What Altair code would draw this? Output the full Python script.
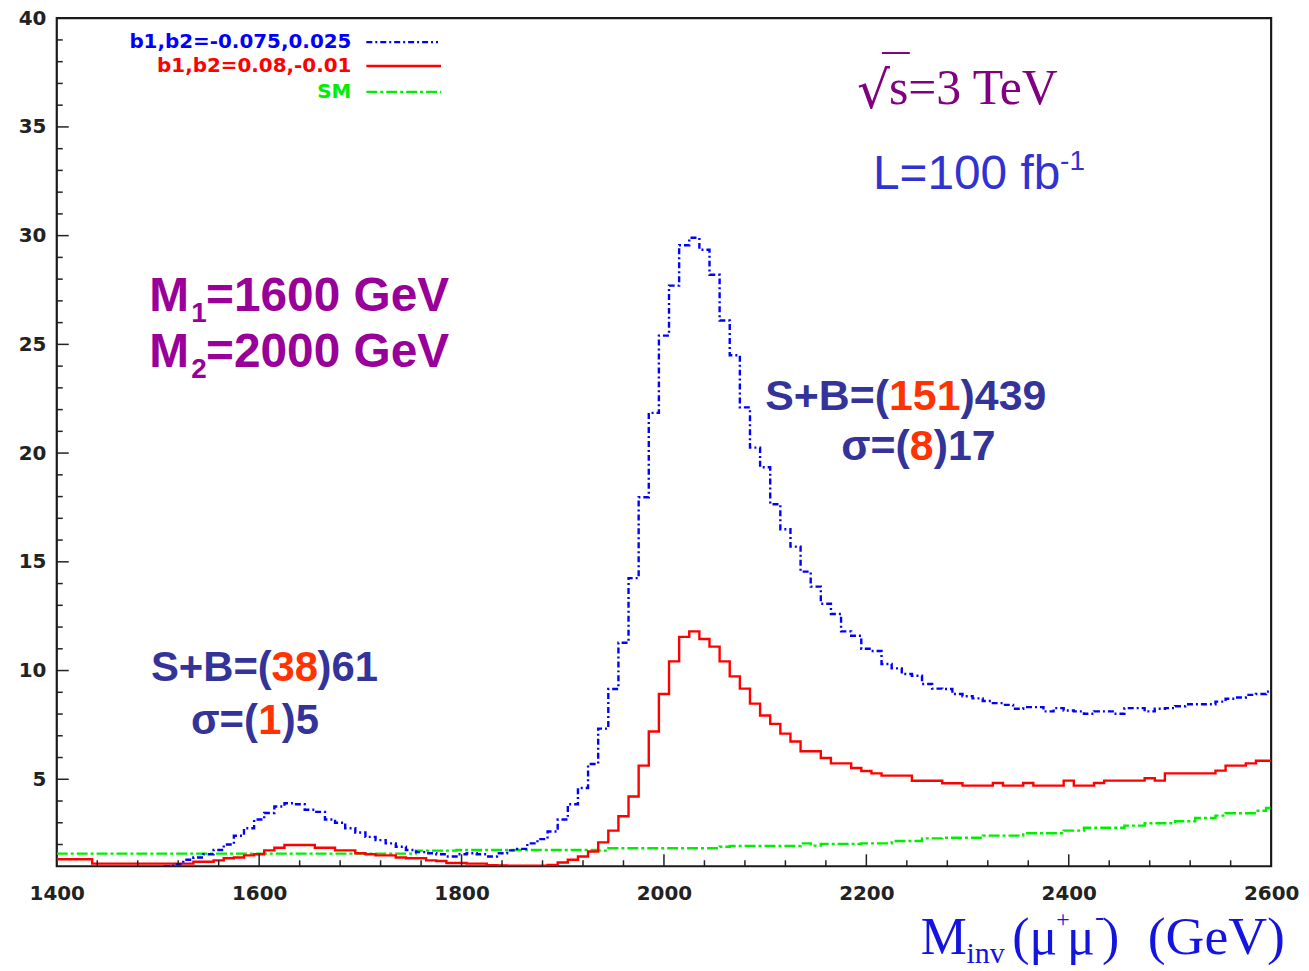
import altair as alt
import pandas as pd

# ---------------- data (10 GeV bins, value at bin centre) ----------------
mass = [1400 + 10 * i for i in range(121)]

blue = [0.8, 0.8, 0.8, 0.8, 0.8, 0.8, 0.8, 0.8, 0.8, 0.8,
        0.9, 1.0, 1.1, 1.3, 1.4, 1.55, 1.75, 2.0, 2.4, 2.75,
        3.15, 3.45, 3.75, 3.9, 3.85, 3.6, 3.5, 3.15, 3.0, 2.75,
        2.55, 2.35, 2.2, 2.05, 1.9, 1.75, 1.65, 1.6, 1.55, 1.45,
        1.55, 1.6, 1.55, 1.45, 1.6, 1.73, 1.8, 2.05, 2.25, 2.6,
        3.15, 3.85, 4.6, 5.7, 7.33, 9.15, 11.28, 14.25, 17.97, 21.85,
        25.4, 27.7, 29.56, 29.9, 29.35, 28.2, 26.1, 24.5, 22.1, 20.25,
        19.35, 17.65, 16.5, 15.7, 14.55, 13.86, 13.07, 12.6, 11.8, 11.6,
        11.0, 10.9, 10.3, 10.1, 9.84, 9.76, 9.38, 9.17, 9.15, 8.92,
        8.82, 8.72, 8.6, 8.5, 8.42, 8.24, 8.32, 8.32, 8.12, 8.27,
        8.16, 8.12, 8.01, 8.12, 8.12, 8.01, 8.27, 8.27, 8.12, 8.24,
        8.27, 8.36, 8.45, 8.45, 8.45, 8.57, 8.7, 8.76, 8.88, 8.92,
        9.03]

red = [1.32, 1.32, 1.32, 1.32, 1.12, 1.12, 1.12, 1.12, 1.12, 1.12,
       1.12, 1.12, 1.12, 1.12, 1.21, 1.21, 1.27, 1.37, 1.4, 1.5,
       1.55, 1.73, 1.85, 1.98, 1.98, 1.98, 1.85, 1.85, 1.73, 1.73,
       1.6, 1.55, 1.5, 1.5, 1.4, 1.37, 1.37, 1.27, 1.24, 1.15,
       1.15, 1.12, 1.12, 1.05, 1.04, 1.03, 1.03, 1.03, 1.03, 1.06,
       1.17, 1.3, 1.45, 1.68, 2.1, 2.64, 3.3, 4.21, 5.63, 7.2,
       8.92, 10.42, 11.55, 11.8, 11.45, 11.1, 10.42, 9.73, 9.17, 8.48,
       7.93, 7.55, 7.1, 6.74, 6.29, 6.29, 5.98, 5.73, 5.73, 5.52,
       5.38, 5.27, 5.17, 5.17, 5.17, 4.93, 4.93, 4.93, 4.82, 4.82,
       4.71, 4.71, 4.71, 4.83, 4.71, 4.71, 4.83, 4.71, 4.71, 4.71,
       4.94, 4.71, 4.71, 4.83, 4.94, 4.94, 4.94, 4.94, 5.05, 4.94,
       5.27, 5.27, 5.27, 5.27, 5.27, 5.4, 5.63, 5.63, 5.73, 5.85,
       5.85]

green = [1.58, 1.58, 1.58, 1.58, 1.58, 1.58, 1.58, 1.58, 1.58, 1.58,
         1.58, 1.58, 1.58, 1.58, 1.58, 1.58, 1.58, 1.58, 1.58, 1.58,
         1.58, 1.58, 1.58, 1.58, 1.58, 1.58, 1.58, 1.58, 1.58, 1.58,
         1.58, 1.58, 1.58, 1.58, 1.58, 1.58, 1.72, 1.72, 1.72, 1.72,
         1.75, 1.75, 1.75, 1.75, 1.75, 1.75, 1.75, 1.75, 1.75, 1.75,
         1.75, 1.75, 1.75, 1.75, 1.72, 1.83, 1.83, 1.83, 1.83, 1.83,
         1.83, 1.83, 1.83, 1.83, 1.83, 1.83, 1.9, 1.93, 1.93, 1.93,
         1.93, 1.93, 1.93, 1.93, 2.05, 1.95, 2.03, 2.03, 2.03, 2.03,
         2.05, 2.05, 2.05, 2.16, 2.16, 2.16, 2.28, 2.28, 2.31, 2.31,
         2.31, 2.31, 2.41, 2.41, 2.41, 2.41, 2.52, 2.52, 2.52, 2.52,
         2.64, 2.64, 2.77, 2.77, 2.77, 2.77, 2.87, 2.87, 2.98, 2.98,
         2.98, 3.07, 3.07, 3.22, 3.22, 3.33, 3.44, 3.44, 3.44, 3.55,
         3.68]

x_labels = [1400, 1600, 1800, 2000, 2200, 2400, 2600]
x_minor = [1440, 1480, 1520, 1560, 1640, 1680, 1720, 1760, 1840, 1880, 1920, 1960,
           2040, 2080, 2120, 2160, 2240, 2280, 2320, 2360, 2440, 2480, 2520, 2560]
y_labels = [5, 10, 15, 20, 25, 30, 35, 40]
y_minor = [2, 3, 4, 6, 7, 8, 9, 11, 12, 13, 14, 16, 17, 18, 19, 21, 22, 23, 24,
           26, 27, 28, 29, 31, 32, 33, 34, 36, 37, 38, 39]

legend_labels = ["b1,b2=-0.075,0.025", "b1,b2=0.08,-0.01", "SM"]

W, H = 1220, 852
T = 2  # extra top offset (plot area starts 2 px lower so the "40" label is not clipped)
xs = alt.Scale(domain=[1400, 2600], nice=False, zero=False)
ys = alt.Scale(domain=[1, 40], nice=False, zero=False)

xaxis = alt.Axis(values=x_labels, ticks=False, domain=False, grid=False, title=None,
                 format="d", labelFont="DejaVu Sans", labelFontWeight="bold",
                 labelFontSize=20, labelColor="#222222", labelPadding=17,
                 labelFlush=False, labelOverlap=False)
yaxis = alt.Axis(values=y_labels, ticks=False, domain=False, grid=False, title=None,
                 format="d", labelFont="DejaVu Sans", labelFontWeight="bold",
                 labelFontSize=20, labelColor="#222222", labelPadding=11,
                 labelFlush=False, labelOverlap=False)


def series(vals, color, dash):
    df = pd.DataFrame({"m": mass, "v": vals})
    kw = dict(interpolate="step", clip=True, color=color, strokeWidth=2.4)
    if dash:
        kw["strokeDash"] = dash
    return alt.Chart(df).mark_line(**kw).encode(
        x=alt.X("m:Q", scale=xs, axis=xaxis),
        y=alt.Y("v:Q", scale=ys, axis=yaxis),
    )


def yticks(vals, length):
    return alt.Chart(pd.DataFrame({"t": vals})).mark_rule(color="#222222", strokeWidth=1.5).encode(
        y=alt.Y("t:Q", scale=ys, axis=yaxis), x=alt.value(0), x2=alt.value(length))


def xticks(vals, length):
    return alt.Chart(pd.DataFrame({"t": vals})).mark_rule(color="#222222", strokeWidth=1.5).encode(
        x=alt.X("t:Q", scale=xs, axis=xaxis), y=alt.value(H), y2=alt.value(H - length))


ONE = alt.Data(values=[{}])


def txt(s, x, y, size, color, font="Liberation Sans", weight="bold", align="left",
        baseline="alphabetic"):
    return alt.Chart(ONE).mark_text(text=s, fontSize=size, font=font, fontWeight=weight,
                                    color=color, align=align, baseline=baseline).encode(
        x=alt.value(x), y=alt.value(y - T))


def seg(x1, x2, y, color, dash=None, width=2.4):
    kw = dict(color=color, strokeWidth=width)
    if dash:
        kw["strokeDash"] = dash
    return alt.Chart(ONE).mark_rule(**kw).encode(x=alt.value(x1), x2=alt.value(x2), y=alt.value(y - T))


BLUE, RED, GREEN = "#0000ff", "#ff0000", "#00ee00"
BDASH, GDASH = [6, 3, 2, 3], [11, 3, 3, 3]
NAVY, ORANGE, PURPLE, MAGENTA = "#33339a", "#ff3300", "#800080", "#990099"
XT = "#1414e0"

layers = [
    series(green, GREEN, GDASH),
    series(red, RED, None),
    series(blue, BLUE, BDASH),
    yticks(y_minor, 6), yticks(y_labels[:-1], 12),
    xticks(x_minor, 6), xticks(x_labels[1:-1], 12),
    # legend
    txt(legend_labels[0], 296, 26, 20, BLUE, font="DejaVu Sans", baseline="middle", align="right"),
    txt(legend_labels[1], 296, 50, 20, RED, font="DejaVu Sans", baseline="middle", align="right"),
    txt(legend_labels[2], 296, 76, 20, GREEN, font="DejaVu Sans", baseline="middle", align="right"),
    seg(311, 383, 26, BLUE, [6, 3, 2, 3]),
    seg(311, 386, 50, RED),
    seg(311, 386, 76, GREEN, [11, 3, 3, 3]),
    # sqrt(s) = 3 TeV
    txt("√", 804, 92, 52, PURPLE, font="DejaVu Serif", weight="normal"),
    seg(829, 857, 37, PURPLE, width=2),
    txt("s=3 TeV", 836, 88, 50, PURPLE, font="Liberation Serif", weight="normal"),
    # L = 100 fb-1
    txt("L=100 fb", 820, 174, 48, "#3232d0", weight="normal"),
    txt("-1", 1008, 155, 28, "#3232d0", weight="normal"),
    # masses
    txt("M", 93, 296, 48, MAGENTA),
    txt("1", 135, 307, 28, MAGENTA),
    txt("=1600 GeV", 150, 296, 48, MAGENTA),
    txt("M", 93, 352, 48, MAGENTA),
    txt("2", 135, 363, 28, MAGENTA),
    txt("=2000 GeV", 150, 352, 48, MAGENTA),
    # second peak
    txt("S+B=(", 836, 396, 43, NAVY, align="right"),
    txt("151", 872, 396, 43, ORANGE, align="center"),
    txt(")439", 908, 396, 43, NAVY),
    txt("σ=(", 857, 446, 43, NAVY, align="right"),
    txt("8", 869, 446, 43, ORANGE, align="center"),
    txt(")17", 881, 446, 43, NAVY),
    # first peak
    txt("S+B=(", 216, 668, 42, NAVY, align="right"),
    txt("38", 239, 668, 42, ORANGE, align="center"),
    txt(")61", 262, 668, 42, NAVY),
    txt("σ=(", 202, 721, 42, NAVY, align="right"),
    txt("1", 214, 721, 42, ORANGE, align="center"),
    txt(")5", 226, 721, 42, NAVY),
    # x title
    txt("M", 868, 942, 52, XT, font="Liberation Serif", weight="normal"),
    txt("inv", 914, 951, 30, XT, font="Liberation Serif", weight="normal"),
    txt("(μ", 960, 942, 52, XT, font="Liberation Serif", weight="normal"),
    txt("+", 1004, 915, 24, XT, font="Liberation Serif", weight="normal"),
    txt("μ", 1015, 942, 52, XT, font="Liberation Serif", weight="normal"),
    txt("-", 1043, 913, 28, XT, font="Liberation Serif", weight="normal"),
    txt(")", 1050, 942, 52, XT, font="Liberation Serif", weight="normal"),
    txt("(GeV)", 1096, 942, 54, XT, font="Liberation Serif", weight="normal"),
]

chart = alt.layer(*layers).properties(
    width=W, height=H,
    autosize=alt.AutoSizeParams(type="none"),
    padding={"left": 49, "top": 6 + T, "right": 30, "bottom": 103},
    background="white",
).configure_view(stroke="#1a1a1a", strokeWidth=2.2)

chart.save("out.html", embed_options={"renderer": "svg", "actions": False})
